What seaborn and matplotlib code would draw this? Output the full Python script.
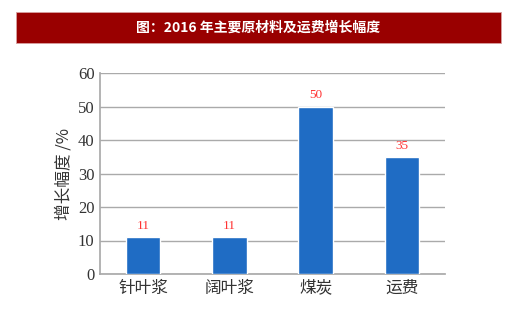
import matplotlib
matplotlib.use("Agg")
import matplotlib.pyplot as plt
import seaborn as sns
import pandas as pd
from matplotlib.patches import Rectangle

categories = ["针叶浆", "阔叶浆", "煤炭", "运费"]
values = [11, 11, 50, 35]
yticks = [0, 10, 20, 30, 40, 50, 60]
title = "图：2016 年主要原材料及运费增长幅度"
ylabel = "增长幅度 /%"

sns.set_theme(style="white")
plt.rcParams['font.family'] = ['Noto Sans CJK SC', 'DejaVu Sans']

df = pd.DataFrame({"cat": categories, "val": values})

fig = plt.figure(figsize=(5.2, 3.18), dpi=100)
# title banner
fig.patches.append(Rectangle((16/520, 1 - 43/318), (501-16)/520, 31/318,
                             transform=fig.transFigure, facecolor="#990000",
                             edgecolor="#d9a0a0", linewidth=0.6, zorder=0))
fig.text(258.5/520, 1 - 27.5/318, title, color="white", fontsize=10,
         fontweight="bold", ha="center", va="center")

ax = fig.add_axes([100/520, 1 - 274/318, 345/520, 201/318])
sns.barplot(data=df, x="cat", y="val", color="#1f6cc4", width=0.4,
            saturation=1, ax=ax, zorder=3)
ax.set_xlim(-0.5, 3.5)
ax.set_ylim(0, 60)
ax.set_yticks(yticks)
ax.set_yticklabels([str(t) for t in yticks], family="Liberation Serif",
                   fontsize=12, color="#333333")
ax.set_xticks(range(len(categories)))
ax.set_xticklabels(categories, fontsize=12, color="#333333")
ax.set_xlabel("")
ax.set_ylabel(ylabel, fontsize=12, color="#333333", labelpad=4)
ax.grid(axis="y", color="#aaaaaa", linewidth=1, zorder=0)
for s in ["top", "right"]:
    ax.spines[s].set_visible(False)
ax.spines["left"].set_color("#aaaaaa")
ax.spines["bottom"].set_color("#aaaaaa")
ax.tick_params(axis="both", length=0, pad=4)
for i, v in enumerate(values):
    ax.text(i, v + 1.5, str(v), color="#ff3333", ha="center", va="bottom",
            fontsize=9.5, family="Liberation Serif")

fig.savefig("out.png", dpi=100)
